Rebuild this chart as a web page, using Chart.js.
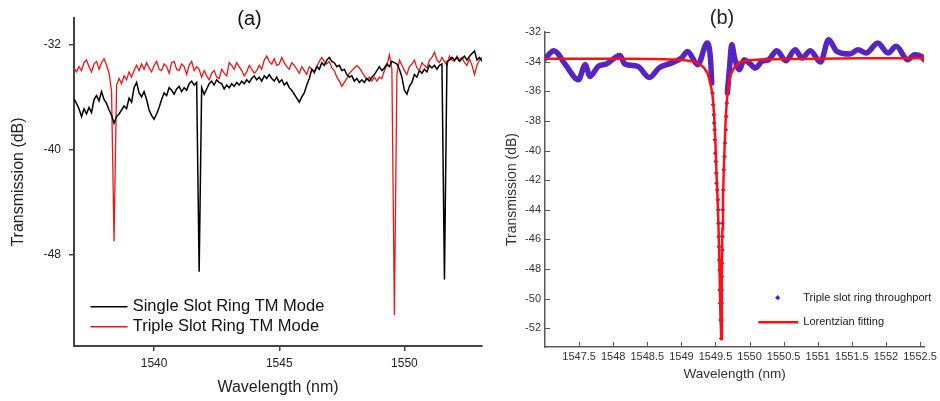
<!DOCTYPE html>
<html><head><meta charset="utf-8">
<script src="https://cdn.jsdelivr.net/npm/chart.js@4/dist/chart.umd.min.js"></script>
<style>
html,body{margin:0;padding:0;background:#fff;width:940px;height:401px;overflow:hidden}
#a{position:absolute;left:0;top:0;width:490px;height:401px}
#b{position:absolute;left:490px;top:0;width:450px;height:401px}
</style></head><body>
<canvas id="a" width="490" height="401"></canvas>
<canvas id="b" width="450" height="401"></canvas>
<script>
// ---------- Panel (a) data ----------
const wavelengthA = [
1536.8,1536.9,1537.0,1537.1,1537.2,1537.3,1537.4,1537.5,1537.6,1537.7,
1537.8,1537.9,1538.0,1538.1,1538.2,1538.3,1538.4,1538.5,1538.6,1538.7,
1538.8,1538.9,1539.0,1539.1,1539.2,1539.3,1539.4,1539.5,1539.6,1539.7,
1539.8,1539.9,1540.0,1540.1,1540.2,1540.3,1540.4,1540.5,1540.6,1540.7,
1540.8,1540.9,1541.0,1541.1,1541.2,1541.3,1541.4,1541.5,1541.6,1541.7,
1541.8,1541.9,1542.0,1542.1,1542.2,1542.3,1542.4,1542.5,1542.6,1542.7,
1542.8,1542.9,1543.0,1543.1,1543.2,1543.3,1543.4,1543.5,1543.6,1543.7,
1543.8,1543.9,1544.0,1544.1,1544.2,1544.3,1544.4,1544.5,1544.6,1544.7,
1544.8,1544.9,1545.0,1545.1,1545.2,1545.3,1545.4,1545.5,1545.6,1545.7,
1545.8,1545.9,1546.0,1546.1,1546.2,1546.3,1546.4,1546.5,1546.6,1546.7,
1546.8,1546.9,1547.0,1547.1,1547.2,1547.3,1547.4,1547.5,1547.6,1547.7,
1547.8,1547.9,1548.0,1548.1,1548.2,1548.3,1548.4,1548.5,1548.6,1548.7,
1548.8,1548.9,1549.0,1549.1,1549.2,1549.3,1549.4,1549.5,1549.6,1549.7,
1549.8,1549.9,1550.0,1550.1,1550.2,1550.3,1550.4,1550.5,1550.6,1550.7,
1550.8,1550.9,1551.0,1551.1,1551.2,1551.3,1551.4,1551.5,1551.6,1551.7,
1551.8,1551.9,1552.0,1552.1,1552.2,1552.3,1552.4,1552.5,1552.6,1552.7,
1552.8,1552.9,1553.0,1553.1];
const singleSlotA = [
-36.15,-36.5,-36.9,-37.5,-36.9,-37.3,-36.8,-37.2,-36.2,-35.9,
-36.3,-35.6,-36.2,-36.5,-37.0,-37.4,-38.0,-37.5,-37.3,-37.0,
-36.7,-36.9,-36.1,-36.4,-35.3,-34.9,-35.7,-36.0,-35.6,-36.2,
-37.0,-37.4,-37.7,-37.3,-36.8,-36.2,-35.7,-35.9,-35.3,-35.5,
-35.8,-35.4,-35.2,-35.6,-35.3,-35.5,-35.0,-34.8,-35.1,-34.9,
-49.3,-35.3,-35.8,-35.4,-35.0,-34.8,-35.1,-34.7,-34.9,-35.0,
-35.4,-35.1,-35.3,-35.0,-35.2,-34.9,-35.1,-34.8,-35.0,-34.7,
-34.9,-34.6,-34.4,-34.7,-34.5,-34.8,-34.4,-34.6,-34.3,-34.6,
-34.8,-34.5,-34.9,-34.7,-35.1,-34.9,-35.3,-35.5,-35.8,-36.1,
-36.4,-36.0,-35.7,-35.1,-34.6,-33.9,-34.1,-33.7,-33.9,-33.4,
-33.6,-33.2,-33.0,-33.3,-33.4,-33.7,-33.6,-34.0,-33.9,-34.3,
-34.5,-34.4,-34.8,-34.6,-34.9,-34.7,-34.9,-34.6,-34.8,-34.5,
-34.3,-34.0,-33.7,-34.0,-33.8,-33.5,-33.7,-33.3,-33.4,-33.5,
-33.9,-34.5,-35.5,-35.8,-35.2,-34.9,-34.3,-34.5,-34.0,-34.2,
-33.9,-34.1,-33.6,-33.8,-33.6,-33.9,-33.6,-33.5,-49.9,-33.3,
-33.2,-33.0,-33.2,-33.0,-33.3,-33.1,-32.9,-33.2,-32.9,-32.7,
-32.5,-33.2,-33.0,-33.3];
const tripleSlotA = [
-33.8,-34.1,-33.7,-34.0,-33.4,-33.2,-33.7,-34.1,-33.5,-33.3,
-33.9,-33.4,-33.1,-33.6,-34.2,-35.6,-47.0,-35.1,-34.6,-35.0,
-34.4,-34.7,-34.1,-34.5,-34.0,-33.6,-34.0,-33.5,-33.9,-33.4,
-33.8,-34.1,-33.6,-33.3,-33.9,-34.0,-33.5,-33.7,-34.2,-33.4,
-33.3,-33.9,-34.0,-33.5,-33.7,-34.3,-33.6,-33.3,-34.0,-33.7,
-33.9,-34.5,-34.0,-34.4,-34.7,-34.2,-34.0,-34.5,-34.6,-33.9,
-34.2,-34.4,-33.4,-33.6,-33.9,-33.4,-33.7,-34.0,-34.4,-34.1,
-33.6,-33.9,-34.2,-34.0,-33.6,-33.9,-33.2,-32.9,-33.3,-33.5,
-33.1,-33.6,-33.5,-33.0,-33.4,-33.7,-33.9,-33.4,-33.6,-33.9,
-34.2,-33.7,-34.0,-34.3,-33.7,-33.9,-34.2,-33.7,-33.3,-33.0,
-33.3,-33.5,-33.3,-33.8,-34.0,-34.5,-34.8,-35.2,-34.9,-34.6,
-34.2,-34.0,-33.8,-33.6,-33.8,-34.1,-34.4,-34.7,-34.5,-34.8,
-34.5,-34.8,-34.5,-34.6,-34.0,-33.6,-32.8,-33.9,-52.6,-34.3,
-33.2,-33.6,-34.0,-34.3,-33.7,-33.5,-33.2,-33.8,-34.0,-33.4,
-33.6,-33.8,-33.2,-33.0,-32.6,-33.2,-33.4,-33.0,-33.3,-33.6,
-32.9,-33.2,-33.3,-32.9,-33.2,-33.0,-33.4,-33.6,-33.1,-33.6,
-34.3,-33.6,-33.2,-33.0];
const seriesNamesA = ['Single Slot Ring TM Mode', 'Triple Slot Ring TM Mode'];
const xTicksA = [1540, 1545, 1550];
const yTicksA = [-48, -40, -32];

// ---------- Panel (b) data ----------
const wavelengthB = [
1547.00,1547.13,1547.30,1547.49,1547.59,1547.66,1547.78,1547.90,1548.10,1548.17,
1548.36,1548.53,1548.68,1548.85,1549.00,1549.09,1549.24,1549.38,1549.43,1549.445,
1549.456,1549.466,1549.476,1549.481,1549.488,1549.491,1549.497,1549.505,1549.512,1549.516,
1549.526,1549.535,1549.541,1549.544,1549.548,1549.552,1549.556,1549.560,1549.563,1549.568,
1549.575,1549.584,1549.590,1549.591,1549.592,1549.594,1549.596,1549.600,1549.601,1549.602,
1549.607,1549.614,1549.622,1549.632,1549.640,1549.650,1549.658,1549.666,1549.675,1549.70,
1549.74,1549.78,1549.85,1549.92,1549.99,1550.09,1550.18,1550.28,1550.40,1550.53,
1550.67,1550.77,1550.89,1551.04,1551.16,1551.28,1551.47,1551.59,1551.71,1551.88,
1552.03,1552.15,1552.32,1552.42,1552.52,1552.56];
const throughportB = [
-33.80,-33.26,-34.21,-35.22,-34.21,-35.00,-34.32,-34.16,-33.58,-34.16,
-34.32,-35.07,-34.39,-34.10,-33.76,-33.31,-34.21,-32.74,-34.00,-35.45,
-36.12,-36.91,-37.59,-38.15,-38.60,-39.28,-40.18,-40.74,-41.53,-42.20,
-42.66,-43.33,-44.00,-44.90,-45.81,-46.49,-47.39,-48.06,-49.41,-50.31,
-51.44,-52.68,-51.44,-50.31,-49.41,-48.51,-47.61,-46.71,-45.80,-44.90,
-44.00,-42.66,-41.30,-40.41,-39.50,-38.60,-37.70,-36.80,-36.12,-34.77,
-32.86,-33.76,-34.55,-33.87,-34.07,-34.43,-33.98,-33.87,-33.26,-33.94,
-33.20,-33.76,-33.26,-34.03,-32.52,-33.31,-33.49,-33.20,-33.42,-32.74,
-33.42,-32.97,-33.87,-33.53,-33.65,-33.87];
const fitWavelengthB = [
1547.00,1547.60,1548.20,1548.60,1549.00,1549.15,1549.26,1549.33,1549.38,1549.41,
1549.44,1549.46,1549.48,1549.50,1549.515,1549.53,1549.545,1549.56,1549.572,1549.585,
1549.591,1549.595,1549.601,1549.610,1549.620,1549.635,1549.652,1549.672,1549.69,1549.72,
1549.77,1549.85,1549.95,1550.15,1550.55,1551.00,1551.60,1552.20,1552.56];
const lorentzFitB = [
-33.80,-33.80,-33.81,-33.83,-33.88,-33.97,-34.15,-34.40,-34.75,-35.20,
-35.80,-36.40,-37.60,-39.60,-41.60,-43.20,-45.30,-48.10,-51.00,-52.70,
-51.00,-48.10,-45.30,-43.20,-41.60,-39.60,-37.60,-36.40,-35.60,-34.90,
-34.45,-34.05,-33.92,-33.86,-33.82,-33.80,-33.78,-33.77,-33.77];
const seriesNamesB = ['Triple slot ring throughport', 'Lorentzian fitting'];
const xTicksB = [1547.5,1548,1548.5,1549,1549.5,1550,1550.5,1551,1551.5,1552,1552.5];
const yTicksB = [-52,-50,-48,-46,-44,-42,-40,-38,-36,-34,-32];

// ---------- rendering ----------
Chart.defaults.font.family = "'Liberation Sans', Arial, Helvetica, sans-serif";
const FONT = "'Liberation Sans', Arial, Helvetica, sans-serif";
const PURPLE = '#5624c2';
const RED_B = '#ff1010';

const panelText = {
  id: 'panelText',
  afterDraw(chart, args, o) {
    const ctx = chart.ctx;
    ctx.save();
    ctx.fillStyle = o.color;
    ctx.font = o.titleSize + 'px ' + FONT;
    ctx.textAlign = 'center';
    ctx.textBaseline = 'alphabetic';
    ctx.fillText(o.title, o.titleX, o.titleY);
    ctx.font = o.legendSize + 'px ' + FONT;
    ctx.textAlign = 'left';
    ctx.textBaseline = 'middle';
    o.items.forEach((it, i) => {
      const ds = chart.data.datasets[it.ds];
      if (it.kind === 'line') {
        ctx.strokeStyle = ds.borderColor;
        ctx.lineWidth = it.lw;
        ctx.beginPath();
        ctx.moveTo(it.x0, it.y);
        ctx.lineTo(it.x1, it.y);
        ctx.stroke();
      } else {
        ctx.fillStyle = ds.pointBackgroundColor;
        ctx.beginPath();
        const r = 2.6, cx = it.x0, cy = it.y;
        ctx.moveTo(cx, cy - r); ctx.lineTo(cx + r, cy); ctx.lineTo(cx, cy + r); ctx.lineTo(cx - r, cy);
        ctx.closePath(); ctx.fill();
      }
      ctx.fillStyle = o.color;
      ctx.fillText(ds.label, it.tx, it.y);
    });
    ctx.restore();
  }
};

const innerTicks = {
  id: 'innerTicks',
  afterDraw(chart, args, o) {
    if (!o || !o.enabled) return;
    const {ctx} = chart; const x = chart.scales.x, y = chart.scales.y;
    ctx.save();
    ctx.strokeStyle = o.color; ctx.lineWidth = 1;
    ctx.beginPath();
    x.ticks.forEach(t => { const px = Math.round(x.getPixelForValue(t.value)) + 0.5; ctx.moveTo(px, x.top); ctx.lineTo(px, x.top - 5); });
    y.ticks.forEach(t => { const py = Math.round(y.getPixelForValue(t.value)) + 0.5; ctx.moveTo(y.right, py); ctx.lineTo(y.right + 5, py); });
    ctx.stroke();
    ctx.restore();
  }
};

const num = v => String(v);

new Chart(document.getElementById('a'), {
  type: 'line',
  data: { datasets: [
    { label: seriesNamesA[0], data: wavelengthA.map((x, i) => ({x, y: singleSlotA[i]})),
      borderColor: '#000000', borderWidth: 1.5, pointRadius: 0, tension: 0, fill: false },
    { label: seriesNamesA[1], data: wavelengthA.map((x, i) => ({x, y: tripleSlotA[i]})),
      borderColor: '#ee1515', borderWidth: 1.3, pointRadius: 0, tension: 0, fill: false }
  ]},
  options: {
    responsive: false, animation: false, events: [],
    layout: { padding: { left: 0, top: 18, right: 8, bottom: 0 } },
    plugins: {
      legend: { display: false }, tooltip: { enabled: false },
      innerTicks: { enabled: false },
      panelText: { title: '(a)', titleX: 249.5, titleY: 24.5, titleSize: 20, color: '#111', legendSize: 16.5,
        items: [
          { ds: 0, kind: 'line', x0: 90.5, x1: 127.5, y: 306.7, lw: 1.6, tx: 132.7 },
          { ds: 1, kind: 'line', x0: 90.5, x1: 127.5, y: 326.7, lw: 1.6, tx: 132.7 }
        ] }
    },
    scales: {
      x: { type: 'linear', min: 1536.8, max: 1553.1,
        afterBuildTicks: s => { s.ticks = xTicksA.map(v => ({ value: v })); },
        afterFit: s => { s.height = 55; },
        grid: { display: true, drawOnChartArea: false, drawTicks: true, tickLength: 5, color: '#444', lineWidth: 1.5 },
        border: { display: true, color: '#444', width: 2 },
        ticks: { font: { size: 12 }, color: '#222', padding: 5, maxRotation: 0, autoSkip: false, callback: num },
        title: { display: true, text: 'Wavelength (nm)', font: { size: 16 }, color: '#222', padding: { top: 0, bottom: 3.4 } }
      },
      y: { type: 'linear', min: -54.95, max: -30,
        afterBuildTicks: s => { s.ticks = yTicksA.map(v => ({ value: v })); },
        afterFit: s => { s.width = 74; },
        grid: { display: true, drawOnChartArea: false, drawTicks: true, tickLength: 5, color: '#444', lineWidth: 1.5 },
        border: { display: true, color: '#444', width: 2 },
        ticks: { font: { size: 12 }, color: '#222', padding: 8, autoSkip: false, callback: num },
        title: { display: true, text: 'Transmission (dB)', font: { size: 16 }, color: '#222', padding: { top: 9.4, bottom: 0 } }
      }
    }
  },
  plugins: [panelText, innerTicks]
});

const dipColor = ctx => (ctx.p0.parsed.y < -35.3 && ctx.p1.parsed.y < -35.3) ? 'rgba(0,0,0,0)' : PURPLE;

new Chart(document.getElementById('b'), {
  type: 'line',
  data: { datasets: [
    { label: seriesNamesB[1], data: fitWavelengthB.map((x, i) => ({x, y: lorentzFitB[i]})),
      borderColor: RED_B, borderWidth: 2.5, pointRadius: 0, tension: 0, fill: false },
    { label: seriesNamesB[0], data: wavelengthB.map((x, i) => ({x, y: throughportB[i]})),
      borderColor: PURPLE, borderWidth: 5.5, borderJoinStyle: 'round', borderCapStyle: 'round',
      cubicInterpolationMode: 'monotone', fill: false,
      segment: { borderColor: dipColor },
      pointStyle: 'rectRot', pointBackgroundColor: PURPLE, pointBorderColor: PURPLE, pointBorderWidth: 0,
      pointRadius: c => (c.parsed && c.parsed.y < -35.3) ? 2.4 : 0 }
  ]},
  options: {
    responsive: false, animation: false, events: [],
    layout: { padding: { left: 0, top: 32, right: 13, bottom: 0 } },
    plugins: {
      legend: { display: false }, tooltip: { enabled: false },
      innerTicks: { enabled: true, color: '#555' },
      panelText: { title: '(b)', titleX: 232, titleY: 24, titleSize: 20, color: '#222', legendSize: 11,
        items: [
          { ds: 1, kind: 'point', x0: 287.7, y: 297.7, tx: 313.3 },
          { ds: 0, kind: 'line', x0: 268.3, x1: 308.3, y: 322.3, lw: 2.5, tx: 313.3 }
        ] }
    },
    scales: {
      x: { type: 'linear', min: 1547.0, max: 1552.56,
        afterBuildTicks: s => { s.ticks = xTicksB.map(v => ({ value: v })); },
        afterFit: s => { s.height = 54; },
        grid: { display: false, drawTicks: false },
        border: { display: true, color: '#5a5a5a', width: 1.5 },
        ticks: { font: { size: 11 }, color: '#333', padding: 3, maxRotation: 0, autoSkip: false, callback: num },
        title: { display: true, text: 'Wavelength (nm)', font: { size: 13.5 }, color: '#333', padding: { top: 0, bottom: 18.9 } }
      },
      y: { type: 'linear', min: -53.26, max: -32,
        afterBuildTicks: s => { s.ticks = yTicksB.map(v => ({ value: v })); },
        afterFit: s => { s.width = 55; },
        grid: { display: false, drawTicks: false },
        border: { display: true, color: '#5a5a5a', width: 1.5 },
        ticks: { font: { size: 11 }, color: '#333', padding: 4, autoSkip: false, callback: num },
        title: { display: true, text: 'Transmission (dB)', font: { size: 14 }, color: '#333', padding: { top: 13.6, bottom: 0 } }
      }
    }
  },
  plugins: [panelText, innerTicks]
});
</script></body></html>
